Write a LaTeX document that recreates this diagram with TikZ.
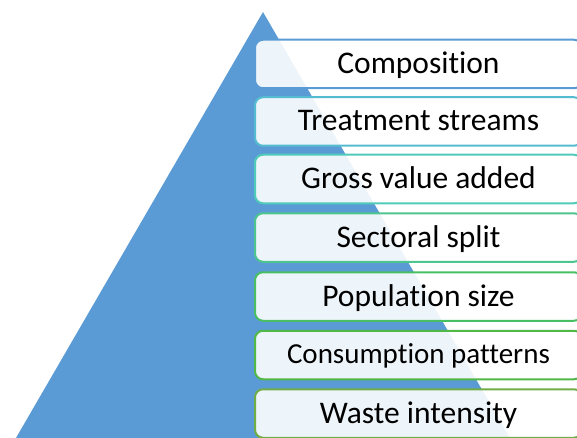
\documentclass[tikz,border=0pt]{standalone}
\usepackage{fontspec}
\setmainfont{Carlito}[Ligatures={NoCommon}]
\definecolor{triblue}{HTML}{5B9BD5}
\definecolor{bcA}{HTML}{5B9BD5}
\definecolor{bcB}{HTML}{55BBD0}
\definecolor{bcC}{HTML}{51CBB9}
\definecolor{bcD}{HTML}{4DC58E}
\definecolor{bcE}{HTML}{49BF64}
\definecolor{bcF}{HTML}{50B846}
\definecolor{bcG}{HTML}{70AD47}
\tikzset{
  levelbox/.style={draw=#1, line width=2pt, rounded corners=8pt, fill=white,
    fill opacity=0.9, text opacity=1, text=black, minimum width=327pt,
    minimum height=48.5pt, inner sep=0pt, anchor=center,
    text height=25pt, text depth=6pt,
    font=\fontsize{31.5}{36}\selectfont}
}
\begin{document}
\begin{tikzpicture}[x=1pt,y=-1pt]
\useasboundingbox (0,0) rectangle (577,438);
\clip (0,0) rectangle (577,438);
\fill[triblue] (263,12) -- (14.8,440) -- (511.2,440) -- cycle;
\node[levelbox=bcA] (l1) at (418.5,64) {Composition};
\node[levelbox=bcB] (l2) at (418.5,121.5) {Treatment streams};
\node[levelbox=bcC] (l3) at (418.5,179) {Gross value added};
\node[levelbox=bcD] (l4) at (418.5,237.5) {Sectoral split};
\node[levelbox=bcE] (l5) at (418.5,296.5) {Population size};
\node[levelbox=bcF, font=\fontsize{29}{34}\selectfont, text height=23pt, text depth=5.6pt] (l6) at (418.5,355) {Consumption patterns};
\node[levelbox=bcG] (l7) at (418.5,413.5) {Waste intensity};
\end{tikzpicture}
\end{document}
